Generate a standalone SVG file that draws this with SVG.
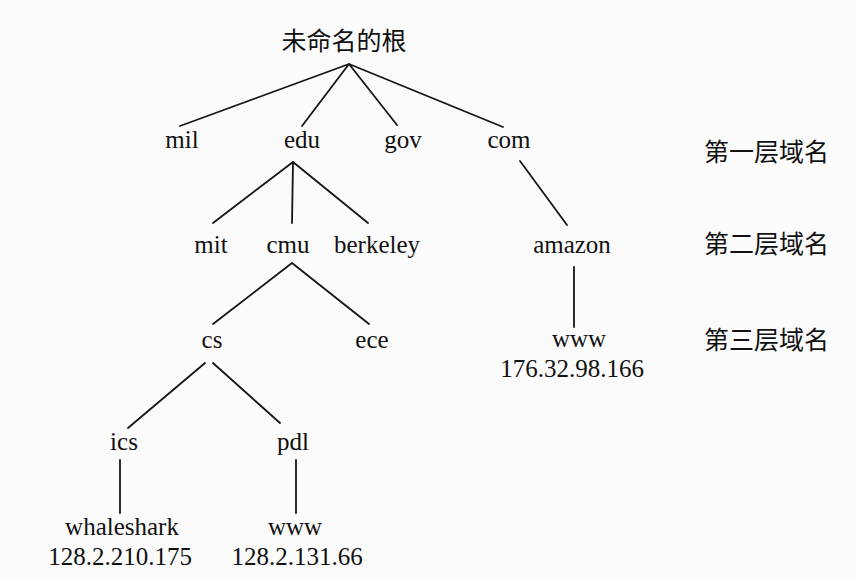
<svg xmlns="http://www.w3.org/2000/svg" width="856" height="580" viewBox="0 0 856 580">
<style>
.t{font-family:"Liberation Serif","Times New Roman",serif;font-size:25px;fill:#111;text-anchor:middle}
.c{font-family:"Noto Sans CJK SC","Noto Sans",sans-serif;font-size:25px;fill:#111}
.e{stroke:#151515;stroke-width:1.8;fill:none;stroke-linecap:round}
</style>
<rect width="856" height="580" fill="#fbfbfb"/>
<g id="connectors" class="e">
<path d="M349 64 L180 126 M349 64 L302 126 M349 64 L397 125 M349 64 L503 127"/>
<path d="M293 162 L213 223 M293 162 L292 223 M293 162 L368 223"/>
<path d="M520 161 L567 225"/>
<path d="M292 263 L213 324 M292 263 L369 324"/>
<path d="M574 267 L574 327"/>
<path d="M205 363 L128 428 M213 363 L280 423"/>
<path d="M120 460 L120 513 M296 460 L296 513"/>
</g>
<g id="root"><text class="c" x="344" y="50" text-anchor="middle">未命名的根</text></g>
<g id="mil"><text class="t" x="182" y="148">mil</text></g>
<g id="edu"><text class="t" x="302" y="148">edu</text></g>
<g id="gov"><text class="t" x="403" y="148">gov</text></g>
<g id="com"><text class="t" x="509" y="148">com</text></g>
<g id="mit"><text class="t" x="211" y="253">mit</text></g>
<g id="cmu"><text class="t" x="288" y="253">cmu</text></g>
<g id="berkeley"><text class="t" x="377" y="253">berkeley</text></g>
<g id="amazon"><text class="t" x="572" y="253">amazon</text></g>
<g id="cs"><text class="t" x="212" y="348">cs</text></g>
<g id="ece"><text class="t" x="372" y="348">ece</text></g>
<g id="amazon-www"><text class="t" x="579" y="347">www</text><text class="t" x="572" y="377">176.32.98.166</text></g>
<g id="ics"><text class="t" x="124" y="450">ics</text></g>
<g id="pdl"><text class="t" x="293" y="450">pdl</text></g>
<g id="whaleshark"><text class="t" x="122" y="535">whaleshark</text><text class="t" x="120" y="565">128.2.210.175</text></g>
<g id="pdl-www"><text class="t" x="295" y="535">www</text><text class="t" x="297" y="565">128.2.131.66</text></g>
<g id="level-labels">
<text class="c" x="704" y="161">第一层域名</text>
<text class="c" x="704" y="253">第二层域名</text>
<text class="c" x="704" y="349">第三层域名</text>
</g>
</svg>
